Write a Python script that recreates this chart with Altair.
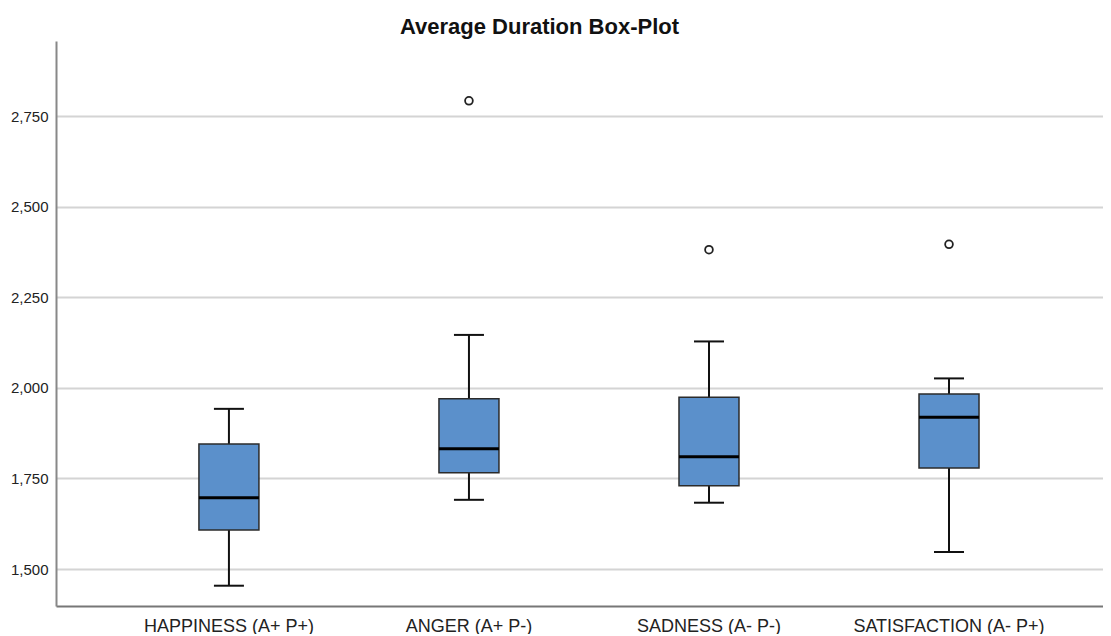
import altair as alt
import pandas as pd

categories = ["HAPPINESS (A+ P+)", "ANGER (A+ P-)", "SADNESS (A- P-)", "SATISFACTION (A- P+)"]
whisker_low = [1.454, 1.691, 1.683, 1.547]
q1 = [1.608, 1.766, 1.730, 1.779]
median = [1.697, 1.832, 1.810, 1.919]
q3 = [1.845, 1.970, 1.974, 1.983]
whisker_high = [1.942, 2.146, 2.128, 2.026]

outlier_cats = ["ANGER (A+ P-)", "SADNESS (A- P-)", "SATISFACTION (A- P+)"]
outlier_vals = [2.792, 2.381, 2.396]

y_ticks = [1.5, 1.75, 2.0, 2.25, 2.5, 2.75]

box = pd.DataFrame({
    "cat": categories, "lo": whisker_low, "q1": q1, "med": median,
    "q3": q3, "hi": whisker_high,
})
outl = pd.DataFrame({"cat": outlier_cats, "v": outlier_vals})

FONT = "Liberation Sans"

xenc = alt.X("cat:N", sort=categories, title=None,
             scale=alt.Scale(paddingInner=0, paddingOuter=0.181, align=0.609),
             axis=alt.Axis(labelAngle=0, ticks=False, grid=False, labelFontSize=18,
                           labelFont=FONT, labelColor="#222", labelPadding=11,
                           labelLimit=400,
                           domainColor="#777", domainWidth=2))
yscale = alt.Scale(domain=[1.398, 2.957], nice=False, zero=False)
yaxis = alt.Axis(values=y_ticks, ticks=False, grid=True, gridColor="#d4d4d4", gridWidth=2,
                 labelExpr="replace(format(datum.value, '.3f'), '.', ',')",
                 labelFontSize=15, labelFont=FONT, labelColor="#222", labelPadding=8,
                 domainColor="#888", domainWidth=2, title=None)

base = alt.Chart(box)

whisk = base.mark_rule(color="#111", strokeWidth=2).encode(
    x=xenc, y=alt.Y("lo:Q", scale=yscale, axis=yaxis), y2="hi:Q")
caps_lo = base.mark_tick(color="#111", size=30, thickness=2, opacity=1).encode(
    x=alt.X("cat:N", sort=categories), y=alt.Y("lo:Q"))
caps_hi = base.mark_tick(color="#111", size=30, thickness=2, opacity=1).encode(
    x=alt.X("cat:N", sort=categories), y=alt.Y("hi:Q"))
bars = base.mark_bar(size=60, color="#5b90cb", stroke="#2b2b2b", strokeWidth=1.5).encode(
    x=alt.X("cat:N", sort=categories), y=alt.Y("q1:Q"), y2="q3:Q")
med = base.mark_tick(color="#000", size=60, thickness=3, opacity=1).encode(
    x=alt.X("cat:N", sort=categories), y=alt.Y("med:Q"))
pts = alt.Chart(outl).mark_point(shape="circle", filled=False, color="#222",
                                 size=60, strokeWidth=1.8, opacity=1).encode(
    x=alt.X("cat:N", sort=categories), y=alt.Y("v:Q"))

chart = alt.layer(whisk, caps_lo, caps_hi, bars, med, pts).properties(
    width=1047, height=565,
    title=alt.TitleParams("Average Duration Box-Plot", fontSize=22, fontWeight="bold",
                          font=FONT, color="#111", anchor="middle", dx=-40, offset=2),
    autosize=alt.AutoSizeParams(type="none"),
    padding={"left": 48, "top": 33, "right": 0, "bottom": 28},
).configure(background="white", view=alt.ViewConfig(stroke="transparent", strokeWidth=0))

chart.save("out.html", embed_options={"renderer": "svg", "actions": False})
